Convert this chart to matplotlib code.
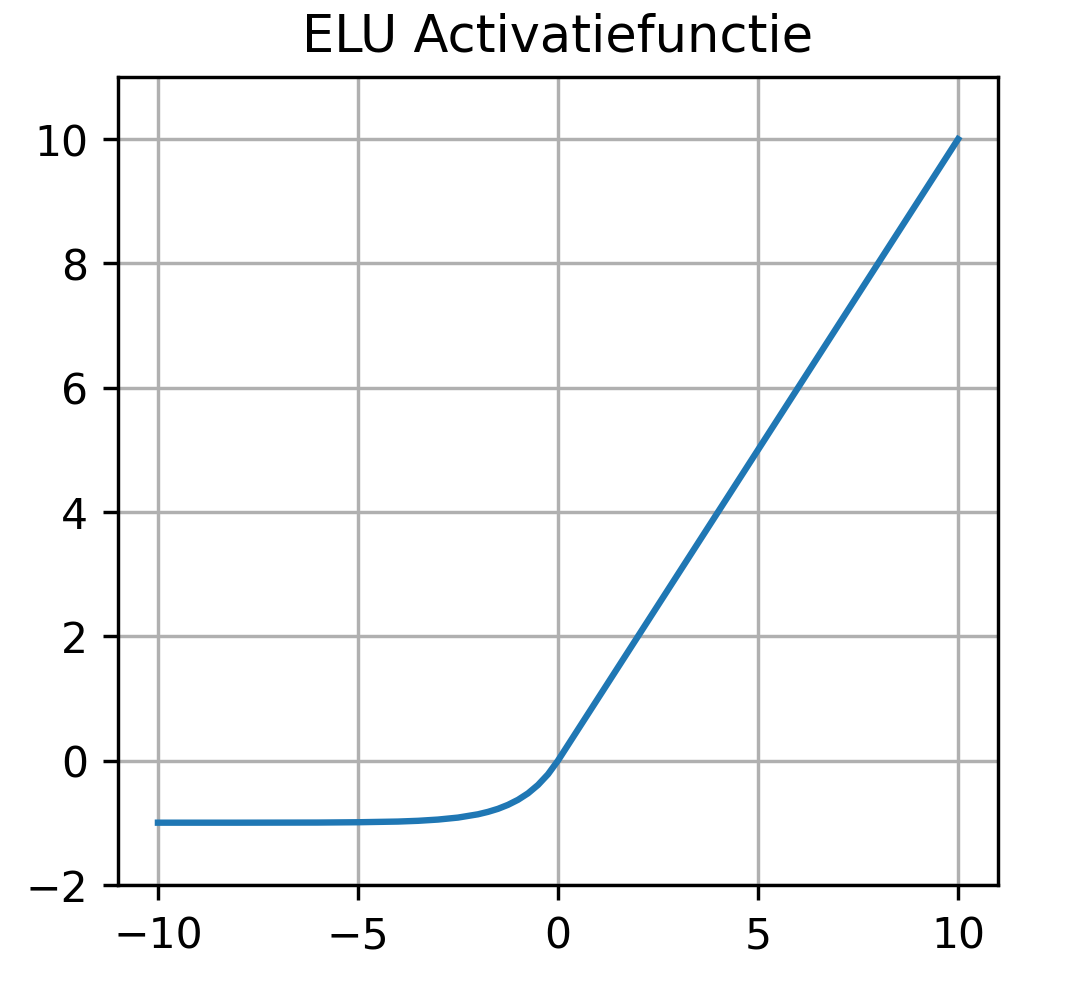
import matplotlib
matplotlib.use('Agg')
import matplotlib.pyplot as plt

# values
x = [-10, -9, -8, -7, -6, -5, -4, -3.5, -3, -2.5, -2, -1.75, -1.5, -1.25, -1,
     -0.75, -0.5, -0.25, 0, 1, 2, 3, 4, 5, 6, 7, 8, 9, 10]
y = [-1.0, -1.0, -1.0, -0.999, -0.998, -0.993, -0.982, -0.970, -0.950, -0.918,
     -0.865, -0.826, -0.777, -0.713, -0.632, -0.528, -0.393, -0.221, 0,
     1, 2, 3, 4, 5, 6, 7, 8, 9, 10]

fig = plt.figure(figsize=(3.5, 3.24), dpi=306.3)
ax = fig.add_axes([0.110, 0.108, 0.821, 0.814])
ax.plot(x, y, linewidth=1.5)
ax.set_xlim(-11, 11)
ax.set_ylim(-2, 11)
ax.set_xticks([-10, -5, 0, 5, 10])
ax.set_yticks([-2, 0, 2, 4, 6, 8, 10])
ax.grid(True)
ax.set_title('ELU Activatiefunctie')

fig.savefig('out.png', dpi=306.3)
